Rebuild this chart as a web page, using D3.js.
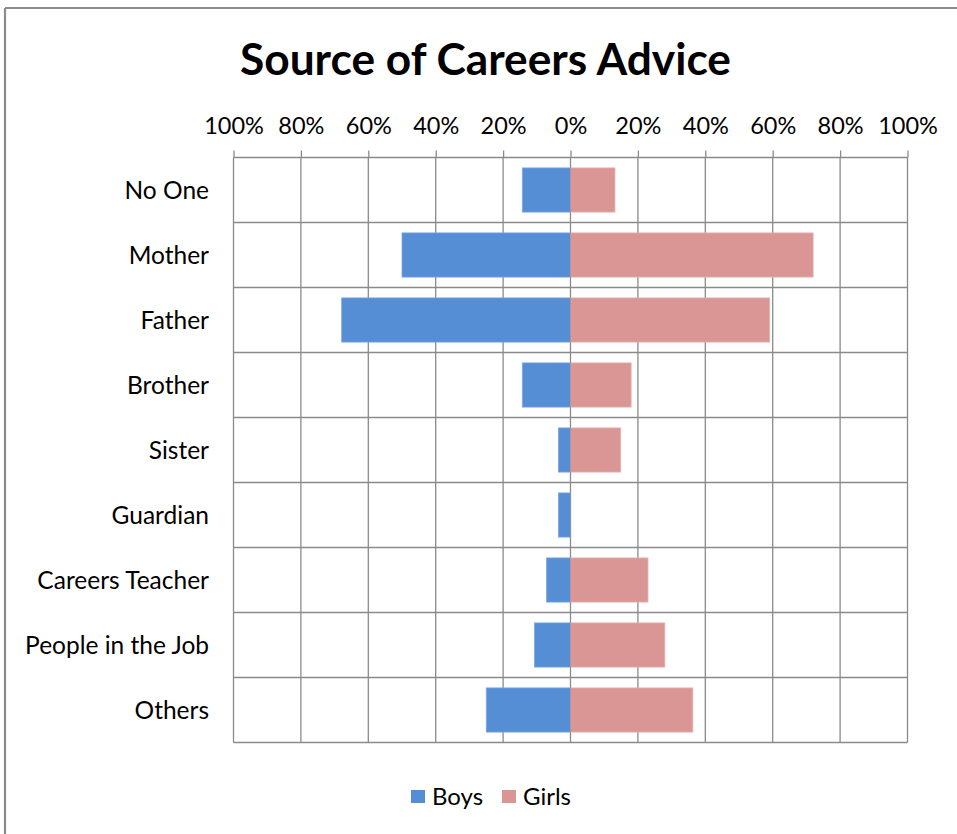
<!DOCTYPE html>
<html>
<head>
<meta charset="utf-8">
<script src="https://cdn.jsdelivr.net/npm/d3@7"></script>
<style>
  html, body { margin: 0; padding: 0; background: #fff; }
  svg { display: block; }
  text { font-family: Lato, "Open Sans", sans-serif; fill: #000; }
</style>
</head>
<body>
<svg id="chart" width="957" height="834"></svg>
<script>
const categories = ["No One", "Mother", "Father", "Brother", "Sister", "Guardian", "Careers Teacher", "People in the Job", "Others"];
const boys  = [0.143, 0.50, 0.679, 0.143, 0.036, 0.036, 0.071, 0.107, 0.25];
const girls = [0.132, 0.72, 0.591, 0.18, 0.149, 0, 0.23, 0.28, 0.363];
const tickValues = [-1, -0.8, -0.6, -0.4, -0.2, 0, 0.2, 0.4, 0.6, 0.8, 1];
const seriesNames = ["Boys", "Girls"];
const colors = ["#558ED5", "#D99694"];

const svg = d3.select("#chart");
const W = 957, H = 834;

// chart border (top and left visible)
svg.append("line").attr("x1", 5).attr("x2", W).attr("y1", 8).attr("y2", 8)
  .attr("stroke", "#8c8c8c").attr("stroke-width", 2.2);
svg.append("line").attr("x1", 5).attr("x2", 5).attr("y1", 8).attr("y2", H)
  .attr("stroke", "#8c8c8c").attr("stroke-width", 2.2);

// title
svg.append("text")
  .attr("x", 485.5).attr("y", 75)
  .attr("text-anchor", "middle")
  .attr("font-size", 43).attr("font-weight", "bold")
  .attr("textLength", 491).attr("lengthAdjust", "spacingAndGlyphs")
  .text("Source of Careers Advice");

const x = d3.scaleLinear().domain([-1, 1]).range([233.5, 907.5]);
const y = d3.scaleBand().domain(categories).range([157.5, 742.5])
  .paddingInner(0.32).paddingOuter(0.16);

const gridColor = "#8a8a8a";

// top axis
const xAxis = d3.axisTop(x)
  .tickValues(tickValues)
  .tickSize(7)
  .tickFormat(d => Math.round(Math.abs(d) * 100) + "%");
const gx = svg.append("g").attr("transform", `translate(0,${y.range()[0]})`).call(xAxis);
gx.select(".domain").remove();
gx.selectAll(".tick line").attr("stroke", gridColor).attr("stroke-width", 1.3);
gx.selectAll(".tick text")
  .attr("font-family", "Lato, sans-serif")
  .attr("font-size", 23.5)
  .attr("fill", "#000")
  .attr("dy", 0)
  .attr("y", -24);

// vertical gridlines
svg.append("g").selectAll("line").data(tickValues).join("line")
  .attr("x1", d => x(d)).attr("x2", d => x(d))
  .attr("y1", y.range()[0]).attr("y2", y.range()[1])
  .attr("stroke", gridColor).attr("stroke-width", 1.3);

// horizontal gridlines at category boundaries
const step = y.step();
const boundaries = d3.range(categories.length + 1).map(i => y.range()[0] + i * step);
svg.append("g").selectAll("line").data(boundaries).join("line")
  .attr("x1", x(-1)).attr("x2", x(1))
  .attr("y1", d => d).attr("y2", d => d)
  .attr("stroke", gridColor).attr("stroke-width", 1.3);

// category labels
const yAxis = d3.axisLeft(y).tickSize(0).tickPadding(0);
const gy = svg.append("g").attr("transform", `translate(209,1)`).call(yAxis);
gy.select(".domain").remove();
gy.selectAll(".tick text")
  .attr("font-family", "Lato, sans-serif")
  .attr("font-size", 24.5)
  .attr("fill", "#000")
  .attr("x", 0);

// bars
svg.append("g").selectAll("rect").data(categories.map((c, i) => ({c, v: boys[i]}))).join("rect")
  .attr("x", d => x(-d.v)).attr("y", d => y(d.c))
  .attr("width", d => x(0) - x(-d.v)).attr("height", y.bandwidth())
  .attr("fill", colors[0]).attr("stroke", "#7fa9df").attr("stroke-width", 0.8);
svg.append("g").selectAll("rect").data(categories.map((c, i) => ({c, v: girls[i]})).filter(d => d.v > 0)).join("rect")
  .attr("x", x(0)).attr("y", d => y(d.c))
  .attr("width", d => x(d.v) - x(0)).attr("height", y.bandwidth())
  .attr("fill", colors[1]).attr("stroke", "#e6b4b3").attr("stroke-width", 0.8);

// zero line on top
svg.append("line").attr("x1", x(0)).attr("x2", x(0))
  .attr("y1", y.range()[0]).attr("y2", y.range()[1])
  .attr("stroke", gridColor).attr("stroke-width", 1)
  .attr("stroke-opacity", 0.6);

// legend
const legend = svg.append("g");
const legendX = [411, 502];
seriesNames.forEach((name, i) => {
  legend.append("rect").attr("x", legendX[i]).attr("y", 790).attr("width", 14).attr("height", 13)
    .attr("fill", colors[i]);
  legend.append("text").attr("x", legendX[i] + 21).attr("y", 805)
    .attr("font-size", 24).text(name);
});
</script>
</body>
</html>
